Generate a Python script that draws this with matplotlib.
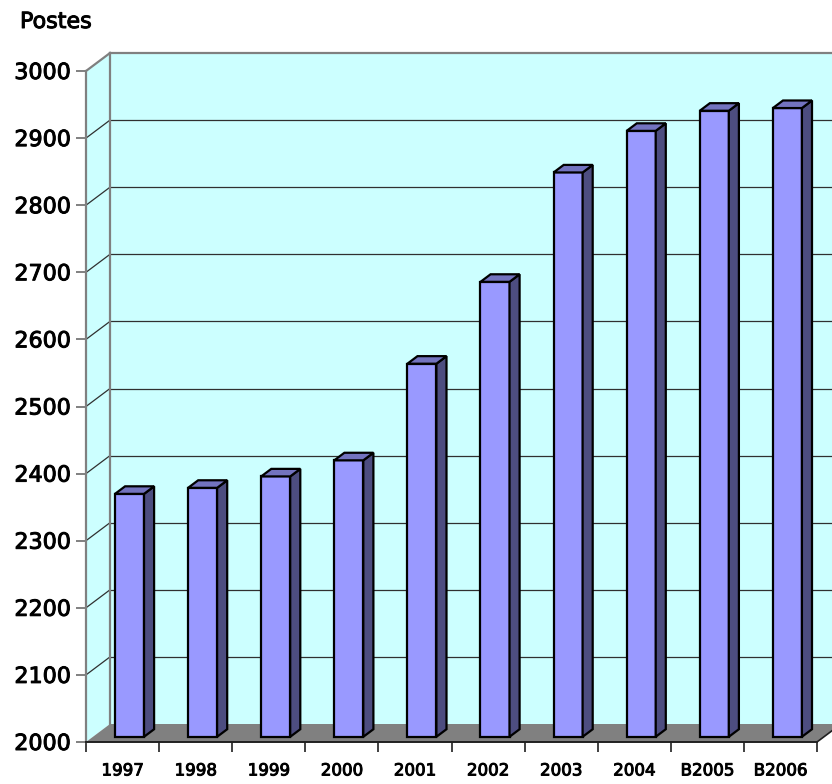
import matplotlib.pyplot as plt
from matplotlib.patches import Polygon
import matplotlib.patheffects as pe
import numpy as np

# données
annees = ['1997', '1998', '1999', '2000', '2001', '2002', '2003', '2004', 'B2005', 'B2006']
postes = [2362, 2371, 2388, 2412, 2556, 2678, 2841, 2903, 2933, 2937]
graduations = [2000, 2100, 2200, 2300, 2400, 2500, 2600, 2700, 2800, 2900, 3000]

W, H = 832, 784
fig = plt.figure(figsize=(W / 100, H / 100), dpi=100)
ax = fig.add_axes([86 / W, (H - 742) / H, (817 - 86) / W, (742 - 71) / H])
ax.set_xlim(-0.5, len(annees) - 0.5)
ax.set_ylim(graduations[0], graduations[-1])

# profondeur du pseudo 3D (en unités de données)
px_x = (817 - 86) / len(annees)
px_y = (742 - 71) / (graduations[-1] - graduations[0])
DX = 24 / px_x
DY = 18 / px_y

x0, x1 = -0.5, len(annees) - 0.5
ymin, ymax = graduations[0], graduations[-1]
cyan = '#CCFFFF'
epais = [pe.withStroke(linewidth=0.7, foreground='black')]

def poly(pts, **kw):
    p = Polygon(pts, closed=True, clip_on=False, **kw)
    ax.add_patch(p)
    return p

# murs et sol
poly([(x0 + DX, ymin + DY), (x0 + DX, ymax + DY), (x1 + DX + 1, ymax + DY), (x1 + DX + 1, ymin + DY)],
     facecolor=cyan, edgecolor='none', zorder=0)
poly([(x0, ymin), (x0, ymax), (x0 + DX, ymax + DY), (x0 + DX, ymin + DY)],
     facecolor=cyan, edgecolor='none', zorder=0)
poly([(x0, ymin), (x1, ymin), (x1 + DX, ymin + DY), (x0 + DX, ymin + DY)],
     facecolor='#808080', edgecolor='none', zorder=1)

for g in graduations[1:-1]:
    ax.plot([x0 + DX, x1 + DX + 1], [g + DY, g + DY], color='#303030', lw=0.9, zorder=0.5, clip_on=False)
    ax.plot([x0, x0 + DX], [g, g + DY], color='#303030', lw=0.9, zorder=0.5, clip_on=False)

ax.plot([x0 + DX, x1 + DX + 1], [ymax + DY, ymax + DY], color='#808080', lw=1.6, clip_on=False, zorder=0.6)
ax.plot([x0, x0 + DX], [ymax, ymax + DY], color='#808080', lw=1.6, clip_on=False, zorder=0.6)
ax.plot([x0 + DX, x0 + DX], [ymin + DY, ymax + DY], color='#808080', lw=1.6, clip_on=False, zorder=0.6)
ax.plot([x1, x1 + DX], [ymin, ymin + DY], color='#202020', lw=1.2, clip_on=False, zorder=1.5)

# barres
f0 = 0.29
larg = 0.397
prof = 0.42
for i, v in enumerate(postes):
    xa = i + f0 * DX - larg / 2
    xb = xa + larg
    b = ymin + f0 * DY
    t = v + f0 * DY
    ddx, ddy = prof * DX, prof * DY
    kw = dict(edgecolor='black', lw=1.6, joinstyle='miter', zorder=3)
    poly([(xa, b), (xb, b), (xb, t), (xa, t)], facecolor='#9999FF', **kw)
    poly([(xb, b), (xb + ddx, b + ddy), (xb + ddx, t + ddy), (xb, t)], facecolor='#4D4D80', **kw)
    poly([(xa, t), (xb, t), (xb + ddx, t + ddy), (xa + ddx, t + ddy)], facecolor='#7373BF', **kw)

# axes
for s in ['top', 'right']:
    ax.spines[s].set_visible(False)
ax.spines['left'].set_color('#808080')
ax.spines['left'].set_linewidth(1.6)
ax.spines['bottom'].set_color('#202020')
ax.spines['bottom'].set_linewidth(1.4)
ax.spines['left'].set_zorder(2)
ax.spines['bottom'].set_zorder(2)
ax.patch.set_visible(False)

ax.set_yticks(graduations)
ax.set_yticklabels([str(g) for g in graduations], fontsize=16)
ax.tick_params(axis='y', length=7.2, width=1.4, color='#808080', pad=3.5)

ax.set_xticks(np.arange(len(annees) + 1) - 0.5)
ax.set_xticklabels([])
ax.tick_params(axis='x', which='major', length=7.2, width=1.2, color='#202020')
ax.set_xticks(np.arange(len(annees)), minor=True)
ax.set_xticklabels(annees, minor=True, fontsize=12)
ax.tick_params(axis='x', which='minor', length=0, pad=14)

for lab in ax.get_yticklabels() + ax.get_xticklabels(minor=True):
    lab.set_path_effects(epais)

fig.text(20 / W, 1 - 28 / H, 'Postes', fontsize=16, va='baseline', ha='left', path_effects=epais)

fig.savefig('out.png', dpi=100)
